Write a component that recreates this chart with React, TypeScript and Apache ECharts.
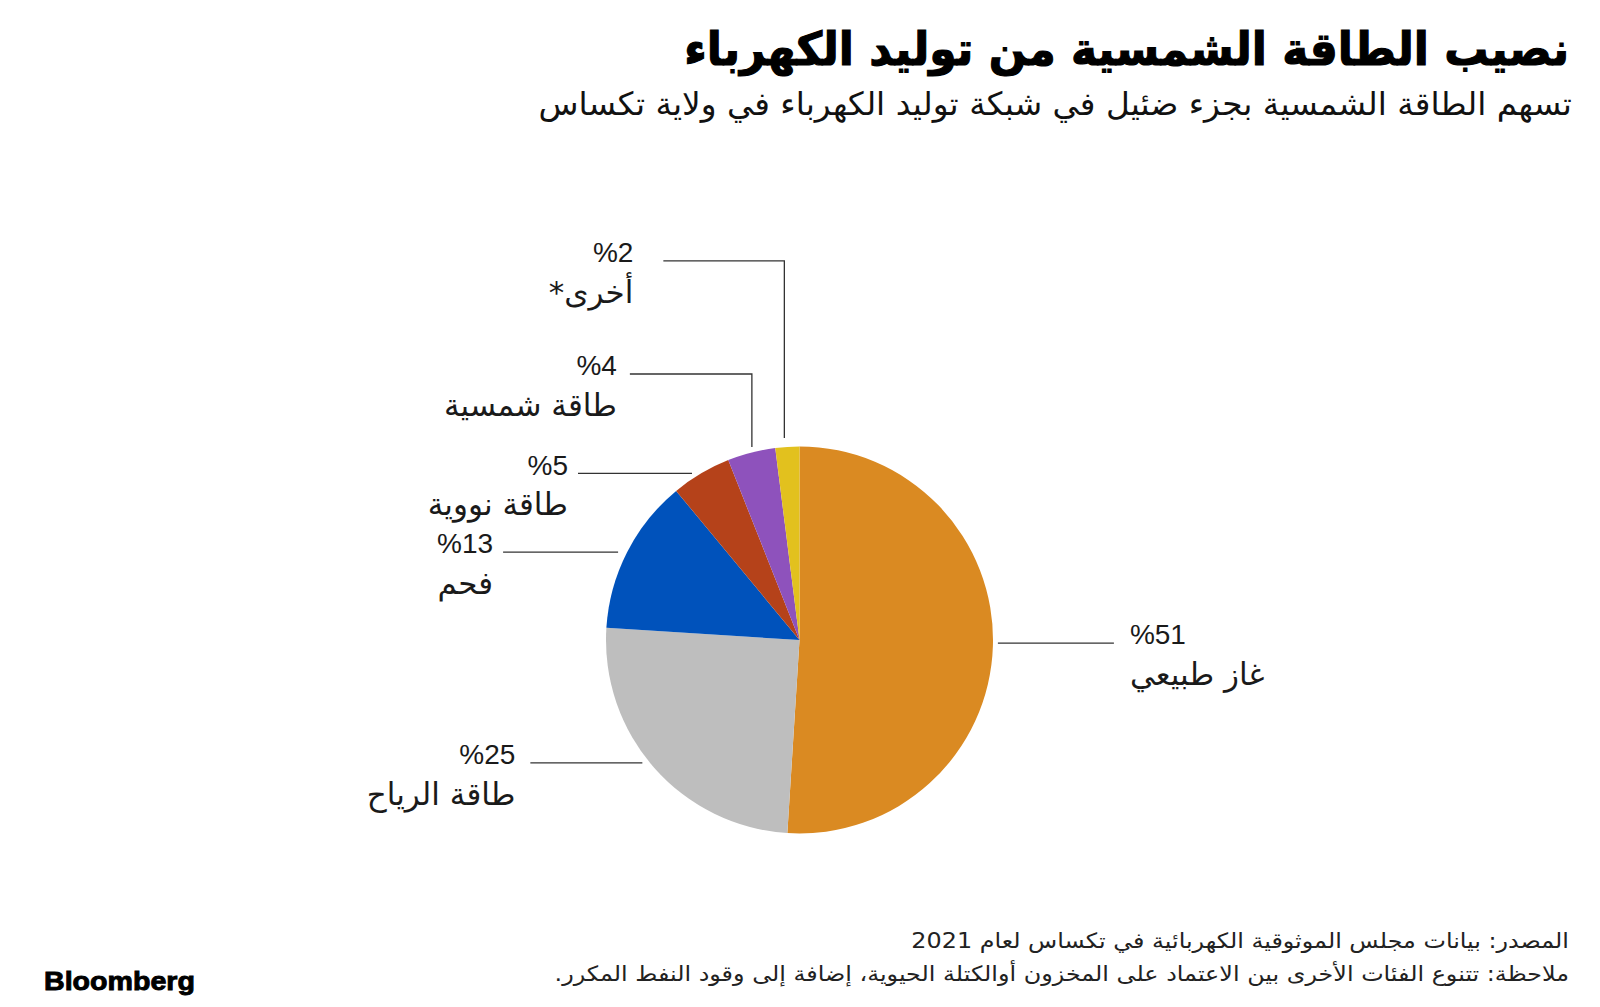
import React, { useEffect, useRef } from 'react';
import * as echarts from 'echarts';

// ---------- data ----------
const CATEGORIES = ['غاز طبيعي', 'طاقة الرياح', 'فحم', 'طاقة نووية', 'طاقة شمسية', 'أخرى*'];
const SHARES = [51, 25, 13, 5, 4, 2];
const COLORS = ['#DA8A22', '#BEBEBE', '#0052BB', '#B5421A', '#8E52BC', '#E2C11E'];

const TITLE = 'نصيب الطاقة الشمسية من توليد الكهرباء';
const SUBTITLE = 'تسهم الطاقة الشمسية بجزء ضئيل في شبكة توليد الكهرباء في ولاية تكساس';
const SOURCE = 'المصدر: بيانات مجلس الموثوقية الكهربائية في تكساس لعام 2021';
const NOTE = 'ملاحظة: تتنوع الفئات الأخرى بين الاعتماد على المخزون أوالكتلة الحيوية، إضافة إلى وقود النفط المكرر.';
const BRAND = 'Bloomberg';

// ---------- layout ----------
const RLM = '\u200F';
const CX = 799.5;
const CY = 640;
const R = 193.5;
const ARABIC_FONT = '"DejaVu Sans", sans-serif';
const LATIN_FONT = '"Liberation Sans", Arial, sans-serif';

// leader-line shapes, one per slice (layout only)
const LEADERS = [
  { kind: 'h', side: 1, gap0: 5, dy: -3, len: 116, textGap: 16 },
  { kind: 'h', side: -1, gap0: 12, dy: -5, len: 112, textGap: 15 },
  { kind: 'h', side: -1, gap0: 9, dy: 0, len: 115, textGap: 10 },
  { kind: 'h', side: -1, gap0: 9, dy: 0, len: 114, textGap: 10 },
  { kind: 'v', side: -1, gap0: 5.6, dx: 0.5, rise: 73, len: 122, textGap: 13 },
  { kind: 'v', side: -1, gap0: 9, dx: -3, rise: 177, len: 121, textGap: 30 },
];

function measure(text: string, font: string): number {
  const c = document.createElement('canvas').getContext('2d');
  if (!c) return 1;
  c.font = font;
  return c.measureText(text).width || 1;
}

function fitText(text: string, x: number, y: number, size: number, weight: string, family: string, targetWidth: number, align: string, color: string, stroke = 0) {
  const w = measure(text, `${weight} ${size}px ${family}`);
  const style: any = {
    text,
    fill: color,
    fontSize: size,
    fontWeight: weight,
    fontFamily: family,
    align,
    textAlign: align,
    verticalAlign: 'middle',
    textVerticalAlign: 'middle',
  };
  if (stroke > 0) {
    style.stroke = color;
    style.lineWidth = stroke;
  }
  return {
    type: 'text',
    x,
    y,
    scaleX: targetWidth / w,
    silent: true,
    style,
  };
}

export default function App() {
  const ref = useRef<HTMLDivElement>(null);

  useEffect(() => {
    document.body.style.margin = '0';
    if (!ref.current) return;
    const chart = echarts.init(ref.current, undefined, { renderer: 'svg' });

    const total = SHARES.reduce((a, b) => a + b, 0);
    const mids: number[] = [];
    let acc = 0;
    SHARES.forEach((v) => {
      mids.push(((acc + v / 2) / total) * 360);
      acc += v;
    });

    const option: any = {
      animation: false,
      backgroundColor: '#ffffff',
      graphic: [
        fitText(TITLE, 1569, 49, 46, 'bold', ARABIC_FONT, 885, 'right', '#000000', 1.2),
        fitText(SUBTITLE, 1572, 104, 32, 'normal', ARABIC_FONT, 1034, 'right', '#111111'),
        fitText(SOURCE, 1569, 941, 21, 'normal', ARABIC_FONT, 658, 'right', '#222222'),
        fitText(NOTE + RLM, 1569, 974, 21, 'normal', ARABIC_FONT, 1015, 'right', '#222222'),
        fitText(BRAND, 44, 981, 26, 'bold', LATIN_FONT, 151, 'left', '#000000', 0.9),
      ],
      series: [
        {
          type: 'pie',
          center: [CX, CY],
          radius: R,
          startAngle: 90,
          clockwise: true,
          avoidLabelOverlap: false,
          silent: true,
          itemStyle: { borderWidth: 0 },
          data: CATEGORIES.map((name, i) => ({
            name,
            value: SHARES[i],
            itemStyle: { color: COLORS[i] },
          })),
          label: {
            show: true,
            position: 'outside',
            formatter: (p: any) => `{p|%${p.value}}\n{n|${p.name}${RLM}}`,
            rich: {
              p: { fontFamily: LATIN_FONT, fontSize: 28, lineHeight: 39, color: '#1a1a1a' },
              n: { fontFamily: ARABIC_FONT, fontSize: 31, lineHeight: 39, color: '#1a1a1a' },
            },
          },
          labelLine: {
            show: true,
            length: 10,
            length2: 10,
            smooth: false,
            lineStyle: { color: '#333333', width: 1.3 },
          },
          labelLayout: (params: any) => {
            const i = params.dataIndex;
            const L: any = LEADERS[i];
            const a = (mids[i] * Math.PI) / 180;
            const px = CX + R * Math.sin(a);
            const py = CY - R * Math.cos(a);
            let pts: number[][];
            let ex: number;
            let ey: number;
            if (L.kind === 'h') {
              const y = py + L.dy;
              const x0 = px + L.side * L.gap0;
              ex = x0 + L.side * L.len;
              ey = y;
              pts = [[x0, y], [ex, ey]];
            } else {
              const x = px + L.dx;
              const y0 = py - L.gap0;
              ey = y0 - L.rise;
              ex = x + L.side * L.len;
              pts = [[x, y0], [x, ey], [ex, ey]];
            }
            const tx = ex + L.side * L.textGap;
            return {
              x: tx,
              y: ey + 2 - 29.7,
              align: L.side > 0 ? 'left' : 'right',
              verticalAlign: 'top',
              labelLinePoints: pts,
            };
          },
        },
      ],
    };

    chart.setOption(option);
    return () => chart.dispose();
  }, []);

  return <div ref={ref} style={{ width: 1600, height: 1007, background: '#fff' }} />;
}
